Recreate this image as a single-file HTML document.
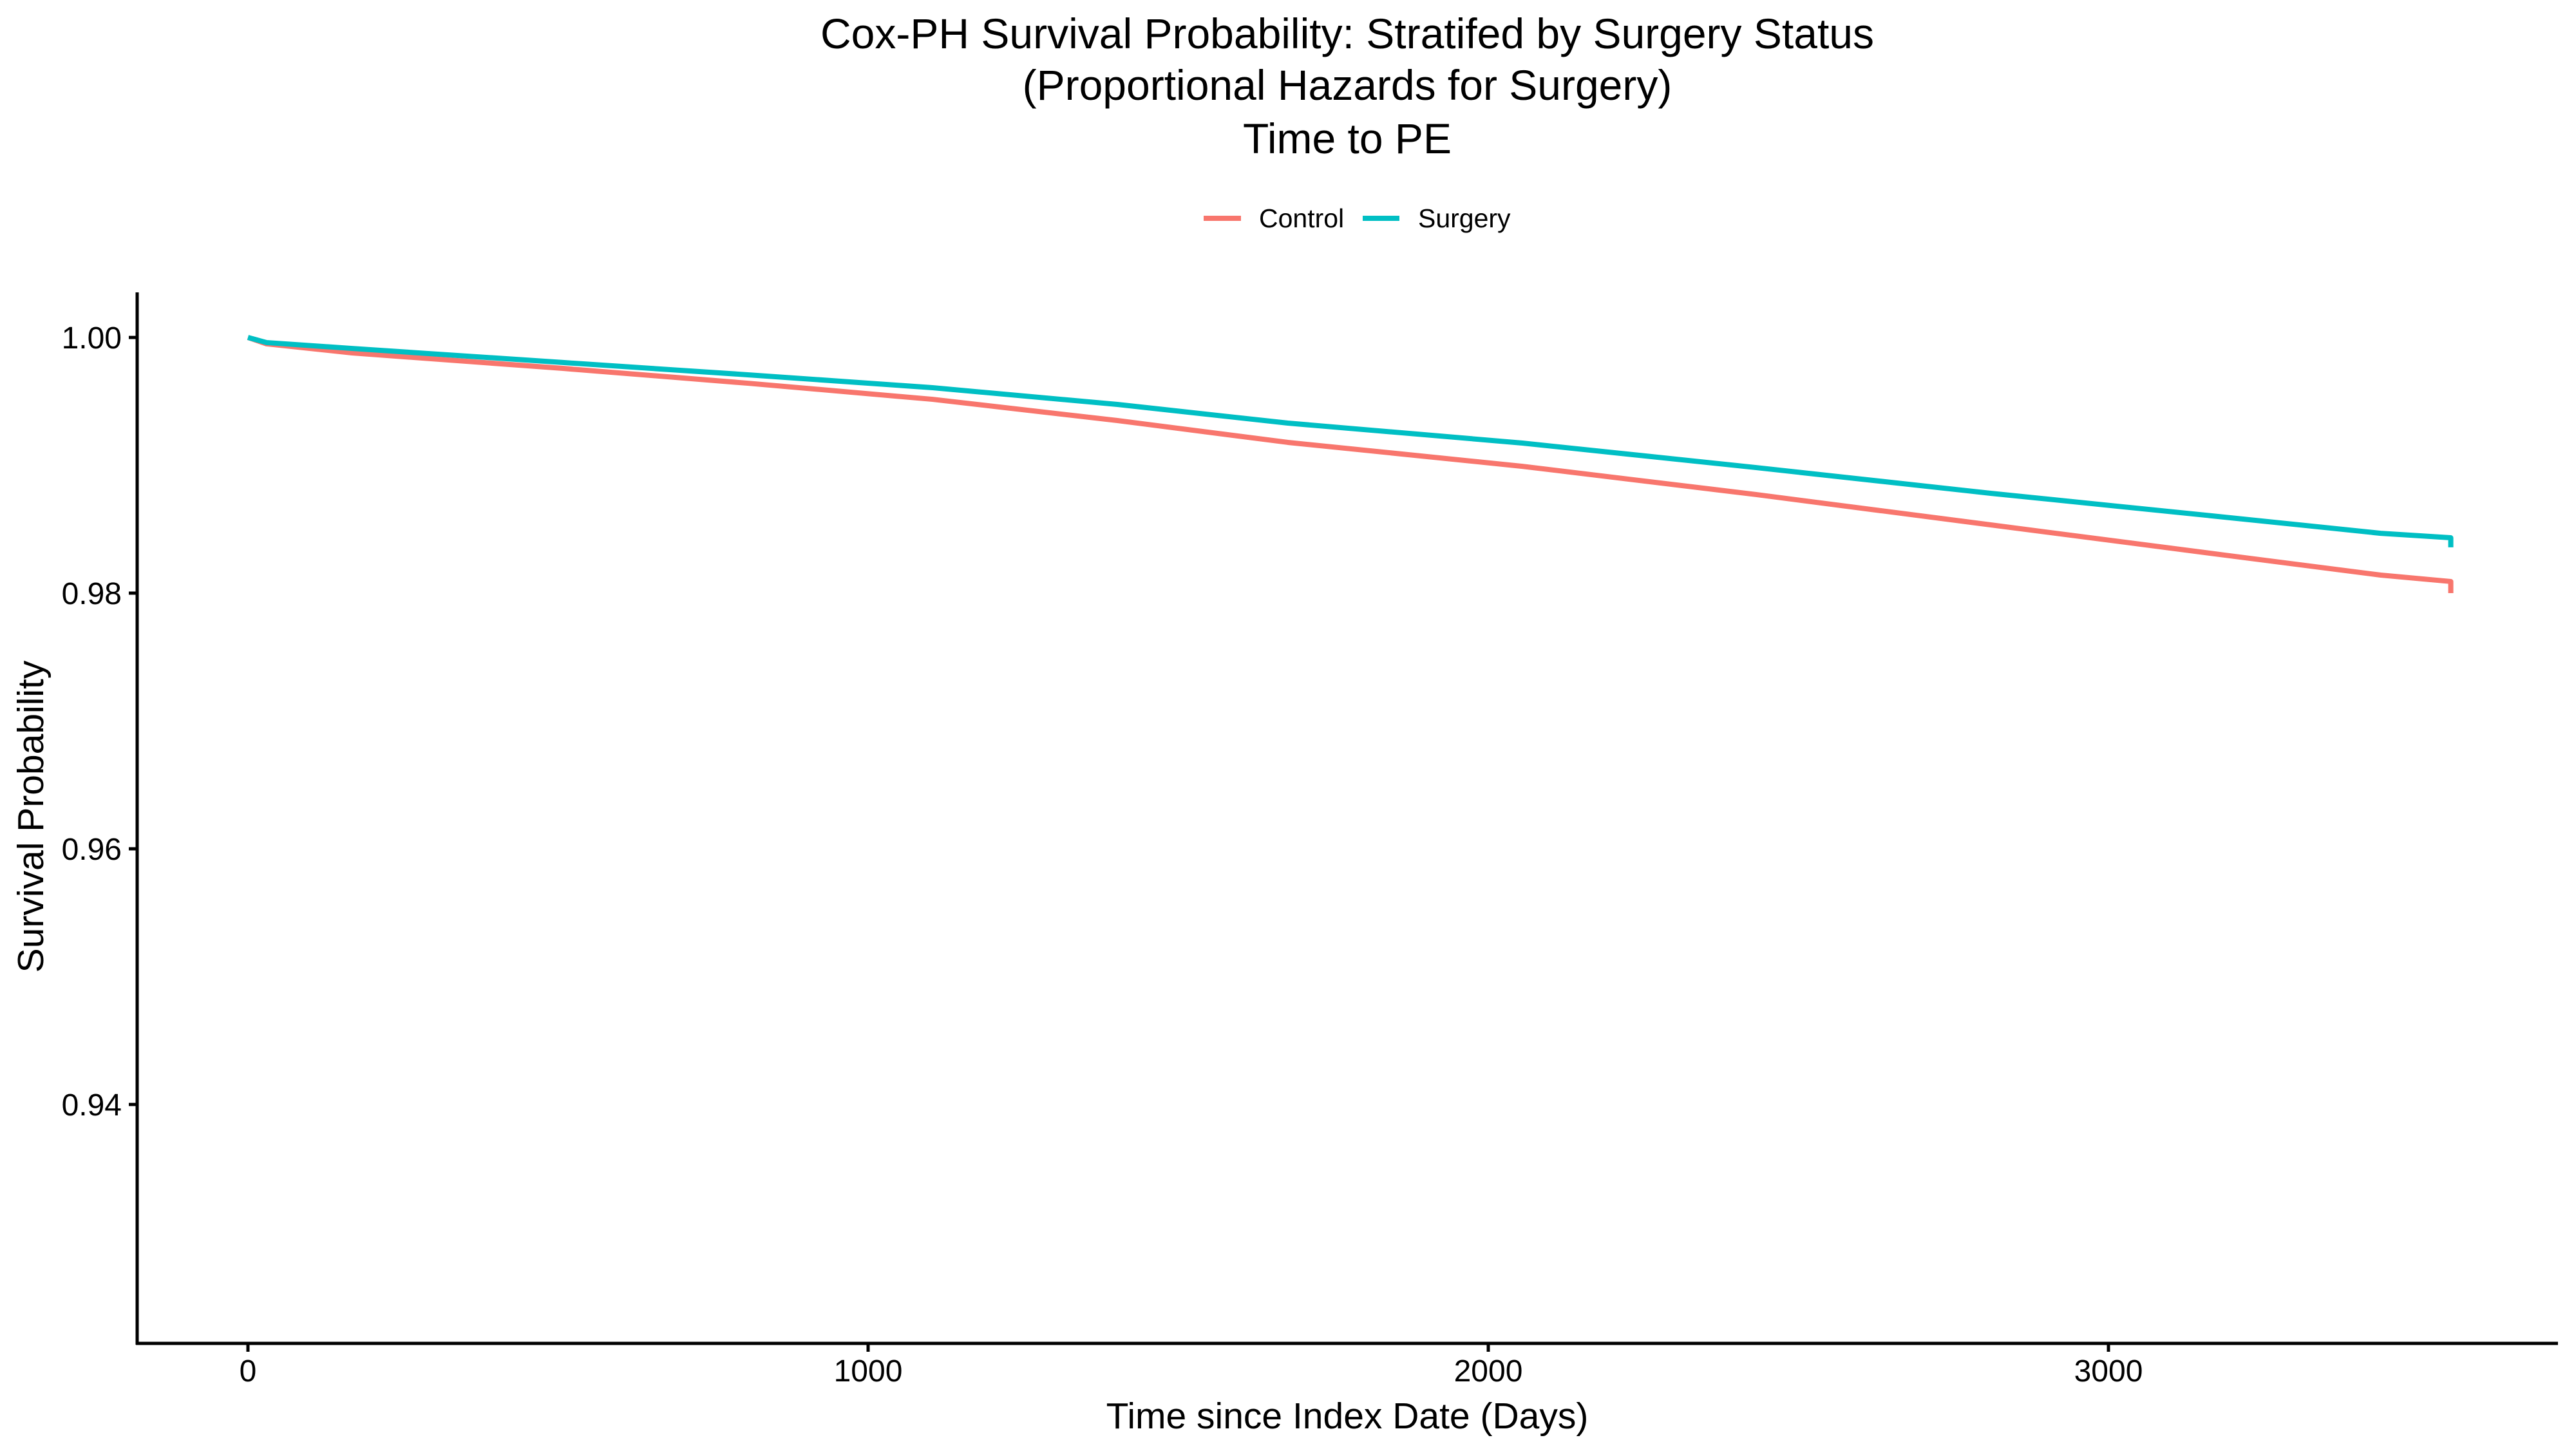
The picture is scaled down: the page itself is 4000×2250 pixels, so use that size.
<!DOCTYPE html>
<html><head><meta charset="utf-8">
<style>
html,body{margin:0;padding:0;background:#fff;}
svg{display:block;font-family:"Liberation Sans",Arial,sans-serif;}
</style></head>
<body>
<svg id="chart" width="4000" height="2250" viewBox="0 0 4000 2250" xmlns="http://www.w3.org/2000/svg">
<rect width="4000" height="2250" fill="#fff"/>
<g text-anchor="middle" fill="#000" font-size="66">
<text x="2092" y="75">Cox-PH Survival Probability: Stratifed by Surgery Status</text>
<text x="2092" y="155">(Proportional Hazards for Surgery)</text>
<text x="2092" y="238">Time to PE</text>
</g>
<g font-size="41" fill="#000">
<g>
<line x1="1869" y1="339" x2="1927" y2="339" stroke="#F8766D" stroke-width="8"/>
<text x="1955" y="353">Control</text>
</g>
<g>
<line x1="2116" y1="339" x2="2173" y2="339" stroke="#00BFC4" stroke-width="8"/>
<text x="2202" y="353">Surgery</text>
</g>
</g>
<g id="axes"></g>
<g id="series"></g>
<text x="0" y="0" transform="translate(67,1268) rotate(-90)" text-anchor="middle" font-size="57">Survival Probability</text>
<text x="2092" y="2218" text-anchor="middle" font-size="57">Time since Index Date (Days)</text>
</svg>
<script>
const xTicks = [0, 1000, 2000, 3000];
const yTicks = [1.00, 0.98, 0.96, 0.94];
const yTickLabels = ["1.00", "0.98", "0.96", "0.94"];
const days = [0, 30, 168, 508, 806, 1104, 1402, 1677, 2055, 2432, 2810, 3188, 3439, 3552];
const controlSurv = [1.0, 0.9995, 0.99879, 0.99758, 0.99642, 0.99516, 0.9935, 0.99179, 0.98992, 0.98771, 0.98534, 0.98297, 0.98141, 0.98091];
const surgerySurv = [1.0, 0.9996, 0.99914, 0.99804, 0.99708, 0.99607, 0.99476, 0.9933, 0.99174, 0.98982, 0.98781, 0.98594, 0.98468, 0.98433];
const controlEnd = 0.98;
const surgeryEnd = 0.98358;

const NS = "http://www.w3.org/2000/svg";
const X0 = 385, XS = 0.963;
const Y0 = 524, YS = 19850;
function xs(d){ return X0 + d * XS; }
function ys(v){ return Y0 + (1 - v) * YS; }

const axes = document.getElementById('axes');
function mk(tag, attrs, parent){
  const e = document.createElementNS(NS, tag);
  for (const k in attrs) e.setAttribute(k, attrs[k]);
  parent.appendChild(e);
  return e;
}
const yl = mk('line', {x1:213, y1:454, x2:213, y2:2088, stroke:'#000', 'stroke-width':5}, axes);


const xl = mk('line', {x1:211, y1:2086, x2:3972, y2:2086, stroke:'#000', 'stroke-width':5}, axes);



yTicks.forEach((v, i) => {
  const t = mk('line', {x1:200, y1:ys(v), x2:213, y2:ys(v), stroke:'#000', 'stroke-width':5}, axes);
  
  
  const lb = mk('text', {x:189, y:ys(v)+17, 'text-anchor':'end', 'font-size':48, fill:'#000'}, axes);
  lb.textContent = yTickLabels[i];
  
  
});
xTicks.forEach(d => {
  const t = mk('line', {x1:xs(d), y1:2086, x2:xs(d), y2:2099, stroke:'#000', 'stroke-width':5}, axes);
  
  
  const lb = mk('text', {x:xs(d), y:2145, 'text-anchor':'middle', 'font-size':48, fill:'#000'}, axes);
  lb.textContent = String(d);
  
  
});

const series = document.getElementById('series');
function drawLine(vals, endVal, color, name){
  let pts = days.map((d, i) => xs(d) + ',' + ys(vals[i]));
  pts.push(xs(days[days.length-1]) + ',' + ys(endVal));
  const p = mk('polyline', {points: pts.join(' '), fill:'none', stroke:color, 'stroke-width':8, 'stroke-linejoin':'round'}, series);
  
  
}
drawLine(controlSurv, controlEnd, '#F8766D', 'control-curve');
drawLine(surgerySurv, surgeryEnd, '#00BFC4', 'surgery-curve');
</script>
</body></html>
